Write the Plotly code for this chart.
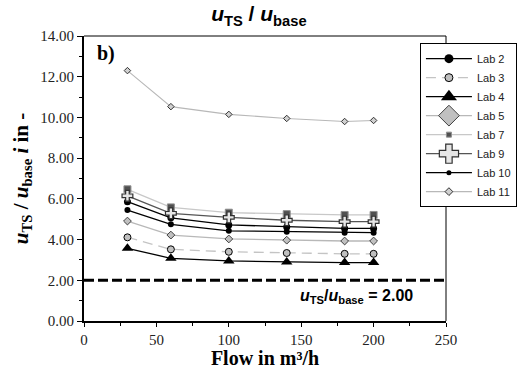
import plotly.graph_objects as go

# Flow rates (m³/h) at which each lab was evaluated
flow = [30, 60, 100, 140, 180, 200]

# u_TS / u_base ratio per lab
lab2 = [5.86, 5.07, 4.72, 4.62, 4.55, 4.55]
lab3 = [4.11, 3.52, 3.40, 3.34, 3.30, 3.30]
lab4 = [3.57, 3.08, 2.95, 2.90, 2.87, 2.87]
lab5 = [4.91, 4.22, 4.03, 3.97, 3.93, 3.93]
lab7 = [6.47, 5.58, 5.32, 5.25, 5.21, 5.21]
lab9 = [6.15, 5.29, 5.09, 4.95, 4.88, 4.88]
lab10 = [5.45, 4.75, 4.43, 4.38, 4.34, 4.34]
lab11 = [12.30, 10.53, 10.15, 9.95, 9.80, 9.85]

threshold = 2.00

x_ticks = [0, 50, 100, 150, 200, 250]
y_ticks = [0, 2, 4, 6, 8, 10, 12, 14]

SERIF = "Liberation Serif"
SANS = "Liberation Sans"

# name, values, line style, marker, marker size in plot, marker size in legend
series = [
    ("Lab 2", lab2, dict(color="black", width=1.3),
     dict(symbol="circle", color="black"), 7, 9),
    ("Lab 3", lab3, dict(color="#c4c4c4", width=1.3, dash="10px,6px"),
     dict(symbol="circle", color="#c0c0c0", line=dict(color="black", width=1)), 7, 8),
    ("Lab 4", lab4, dict(color="black", width=1.3),
     dict(symbol="triangle-up", color="black"), 10, 14),
    ("Lab 5", lab5, dict(color="#b8b8b8", width=1.3),
     dict(symbol="diamond", color="#c0c0c0", line=dict(color="#404040", width=1)), 6, 16),
    ("Lab 7", lab7, dict(color="#c8c8c8", width=1.3),
     dict(symbol="square", color="#505050", line=dict(color="#909090", width=1)), 7, 5),
    ("Lab 9", lab9, dict(color="#555555", width=1.3),
     dict(symbol="cross", color="#e6e6e6", line=dict(color="#303030", width=1.2)), 9, 16),
    ("Lab 10", lab10, dict(color="black", width=1.3),
     dict(symbol="circle", color="black"), 6, 5),
    ("Lab 11", lab11, dict(color="#b8b8b8", width=1.1),
     dict(symbol="diamond", color="#d0d0d0", line=dict(color="#303030", width=1)), 5, 6),
]

fig = go.Figure()
for name, vals, line, marker, size_plot, size_legend in series:
    fig.add_trace(go.Scatter(x=flow, y=vals, name=name, mode="lines+markers",
                             line=line, marker=dict(marker, size=size_plot),
                             showlegend=False))
for name, vals, line, marker, size_plot, size_legend in series:
    fig.add_trace(go.Scatter(x=[None], y=[None], name=name, mode="lines+markers",
                             line=line, marker=dict(marker, size=size_legend),
                             showlegend=True))

# Threshold line
fig.add_shape(type="line", xref="x", yref="y", x0=0, x1=250, y0=threshold, y1=threshold,
              line=dict(color="black", width=3, dash="10px,4px"))
# Top and right frame
fig.add_shape(type="line", xref="paper", yref="paper", x0=0, x1=1, y0=1, y1=1,
              line=dict(color="black", width=1))
fig.add_shape(type="line", xref="paper", yref="paper", x0=1, x1=1, y0=0, y1=1,
              line=dict(color="black", width=1))

fig.add_annotation(x=188, y=1.2, xref="x", yref="y", showarrow=False,
                   text="<b><i>u</i><sub>TS</sub>/<i>u</i><sub>base</sub> = %.2f</b>" % threshold,
                   font=dict(family=SANS, size=16, color="black"))
fig.add_annotation(x=0.03, y=0.985, xref="paper", yref="paper", showarrow=False,
                   xanchor="left", yanchor="top", text="<b>b)</b>",
                   font=dict(family=SERIF, size=20, color="black"))

tick_font = dict(family=SERIF, size=15, color="#222")

fig.update_layout(
    width=523, height=369,
    margin=dict(l=84, r=77, t=36, b=48, autoexpand=False),
    paper_bgcolor="white", plot_bgcolor="white",
    title=dict(text="<b><i>u</i><sub>TS</sub> / <i>u</i><sub>base</sub></b>",
               x=0.495, xanchor="center", y=0.962, yanchor="middle",
               font=dict(family=SANS, size=21, color="black")),
    font=dict(family=SERIF, color="black"),
    xaxis=dict(range=[0, 250], tickvals=x_ticks, ticks="outside", ticklen=4,
               tickcolor="black", showgrid=False, zeroline=False,
               showline=True, linecolor="black", linewidth=1.5,
               minor=dict(dtick=25, ticks="outside", ticklen=3, tickcolor="black"),
               tickfont=tick_font,
               title=dict(text="<b>Flow in m³/h</b>", standoff=2,
                          font=dict(family=SERIF, size=20, color="black"))),
    yaxis=dict(range=[0, 14], tickvals=y_ticks, tickformat=".2f", ticks="outside",
               ticklen=5, tickcolor="black", showgrid=False, zeroline=False,
               showline=True, linecolor="black", linewidth=2,
               minor=dict(dtick=1, ticks="outside", ticklen=3, tickcolor="black"),
               tickfont=tick_font,
               title=dict(text="<b><i>u</i><sub>TS</sub> / <i>u</i><sub>base</sub> <i>i</i> in -</b>",
                          standoff=6,
                          font=dict(family=SERIF, size=21, color="black"))),
    legend=dict(x=0.928, y=0.975, xanchor="left", yanchor="top",
                bgcolor="white", bordercolor="black", borderwidth=1,
                font=dict(family=SANS, size=11, color="#222"),
                itemwidth=46, tracegroupgap=0),
)

fig.write_html("out.html")
